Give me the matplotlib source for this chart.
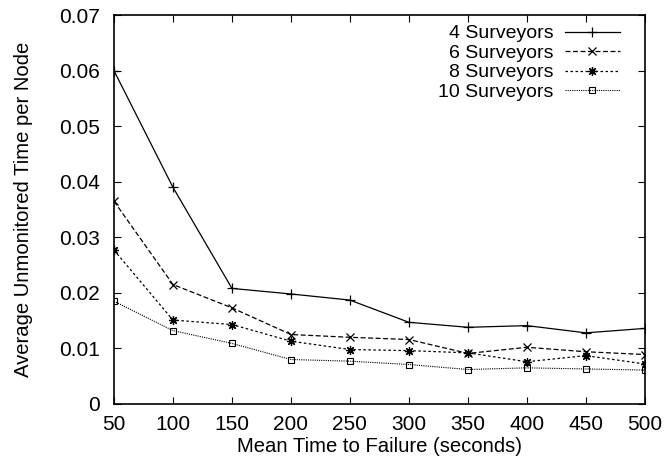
import matplotlib
matplotlib.use('Agg')
import matplotlib.pyplot as plt

plt.rcParams['font.family'] = ['Liberation Sans', 'DejaVu Sans']

mttf = [50, 100, 150, 200, 250, 300, 350, 400, 450, 500]
s4 = [0.0600, 0.0390, 0.0208, 0.0198, 0.0187, 0.0147, 0.0138, 0.0141, 0.0128, 0.0136]
s6 = [0.0365, 0.0215, 0.0173, 0.0125, 0.0120, 0.0116, 0.0091, 0.0102, 0.0094, 0.0089]
s8 = [0.0277, 0.0151, 0.0143, 0.0113, 0.0098, 0.0096, 0.0092, 0.0076, 0.0087, 0.0072]
s10 = [0.0185, 0.0132, 0.0109, 0.0080, 0.0077, 0.0071, 0.0062, 0.0065, 0.0063, 0.0061]
labels = ['4 Surveyors', '6 Surveyors', '8 Surveyors', '10 Surveyors']

fig = plt.figure(figsize=(6.72, 4.58), dpi=100)
ax = fig.add_axes([0.1696, 0.118, 0.790, 0.849])

ax.plot(mttf, s4, color='black', lw=0.9, ls='-', marker='+', ms=7, mew=0.9, label=labels[0])
ax.plot(mttf, s6, color='black', lw=0.9, ls=(0, (4, 2)), marker='x', ms=5.5, mew=0.9, label=labels[1])
ax.plot(mttf, s8, color='black', lw=0.9, ls=(0, (2, 2)), marker=(8, 2, 0), ms=6.5, mew=0.9, label=labels[2])
ax.plot(mttf, s10, color='black', lw=0.8, ls=(0, (1, 1)), marker='s', ms=5, mew=0.8,
        fillstyle='none', label=labels[3])

ax.set_xlim(50, 500)
ax.set_ylim(0, 0.07)
ax.set_xticks(mttf)
ax.set_yticks([0, 0.01, 0.02, 0.03, 0.04, 0.05, 0.06, 0.07])
ax.set_yticklabels(['0', '0.01', '0.02', '0.03', '0.04', '0.05', '0.06', '0.07'])
ax.tick_params(direction='in', top=True, right=True, labelsize=15, length=5)
ax.tick_params(axis='x', pad=8)
ax.tick_params(axis='y', pad=10)
for s in ax.spines.values():
    s.set_linewidth(1.2)

ax.set_xlabel('Mean Time to Failure (seconds)', fontsize=14.6)
ax.set_ylabel('Average Unmonitored Time per Node', fontsize=14.6)
ax.xaxis.set_label_coords(0.5, -0.085)
ax.yaxis.set_label_coords(-0.1525, 0.5)

ax.legend(loc='upper right', bbox_to_anchor=(0.9226, 0.946), bbox_transform=fig.transFigure,
          frameon=False, markerfirst=False, fontsize=14, borderpad=0, borderaxespad=0,
          handlelength=2.83, labelspacing=0.1, handletextpad=0.6)

plt.savefig('out.png', dpi=100)
